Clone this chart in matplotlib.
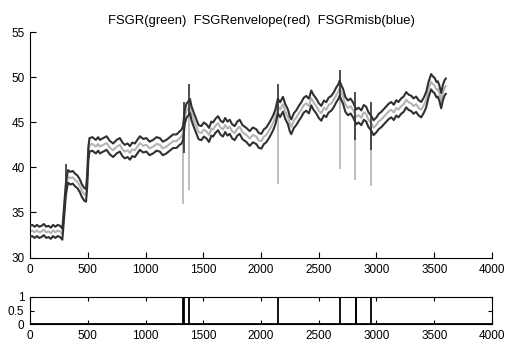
import numpy as np
import matplotlib
matplotlib.use("Agg")
import matplotlib.pyplot as plt

plt.rcParams["font.family"] = ["Liberation Sans", "DejaVu Sans"]

GRAY = "#b4b4b4"
DARK = "#303030"

# FSGR centre line
t_flat = [0, 20, 40, 60, 80, 100, 120, 140, 160, 180, 200, 220, 240, 260, 280]
m_flat = [32.9, 33.0, 32.8, 33.0, 32.8, 32.9, 33.1, 32.8, 32.9, 32.7, 33.0, 32.8, 33.0, 32.9, 32.6]
w_flat = [0.62] * 15

t_step = [295, 310, 320, 330, 350, 370, 390, 410, 430, 450, 470, 485, 495, 505, 515]
m_step = [35.0, 37.5, 38.4, 39.0, 38.8, 38.9, 38.6, 38.4, 38.0, 37.4, 37.0, 36.9, 38.5, 41.5, 42.5]
w_step = [0.62, 0.65, 0.68, 0.7, 0.7, 0.7, 0.7, 0.7, 0.7, 0.7, 0.7, 0.7, 0.7, 0.72, 0.75]

t_plat = [540, 570, 590, 605, 635, 663, 690, 720, 750, 778, 800, 821, 845, 865, 885,
          908, 930, 951, 980, 1008, 1035, 1066, 1095, 1124, 1150, 1181, 1210, 1239, 1268, 1300]
m_plat = [42.6, 42.3, 42.6, 42.3, 42.5, 42.7, 42.2, 41.9, 42.3, 42.5, 42.0, 41.75, 41.9, 41.6, 42.0,
          41.9, 42.3, 42.7, 42.4, 42.5, 42.1, 42.3, 42.6, 42.5, 42.1, 42.3, 42.6, 42.9, 42.9, 43.3]
w_plat = [0.75] * 30

t_mid = [1311, 1325, 1340, 1355, 1369, 1385, 1398, 1420, 1441, 1460, 1484, 1505, 1527, 1550, 1570,
         1585, 1605, 1628, 1650, 1671, 1690, 1710, 1729, 1750, 1772, 1795, 1815, 1840, 1873]
m_mid = [43.4, 43.8, 45.6, 46.3, 46.5, 46.8, 46.0, 45.2, 44.5, 43.9, 43.8, 44.2, 44.0, 43.6, 44.3,
         44.2, 44.6, 44.9, 44.4, 44.2, 44.7, 44.3, 44.5, 44.0, 43.8, 44.3, 44.5, 43.9, 43.6]
w_mid = [0.78] * 29

t_late = [1902, 1930, 1960, 1980, 2003, 2025, 2046, 2075, 2104, 2125, 2146, 2165, 2190, 2210, 2233,
          2250, 2262, 2285, 2305, 2328, 2349, 2370, 2392, 2415, 2435, 2455, 2479, 2500, 2522, 2545,
          2565, 2585, 2608, 2630, 2652, 2670, 2681, 2695, 2710, 2730, 2753, 2775, 2796, 2810, 2825,
          2845, 2868, 2890, 2911, 2930, 2954, 2975, 2998]
m_late = [43.2, 43.6, 43.4, 43.0, 42.9, 43.4, 43.6, 44.2, 44.9, 45.6, 46.8, 46.4, 47.0, 46.2, 45.6,
          44.8, 44.5, 45.2, 45.5, 46.0, 46.4, 46.9, 47.1, 46.8, 47.7, 47.2, 46.8, 46.3, 46.0, 46.6,
          46.4, 46.9, 47.1, 47.5, 48.05, 48.4, 48.8, 48.3, 47.9, 47.0, 46.6, 46.8, 46.4, 46.0, 45.6,
          45.8, 45.5, 46.1, 45.9, 45.3, 44.9, 44.4, 44.7]
w_late = [0.82] * 53

t_end = [3020, 3041, 3062, 3084, 3105, 3127, 3150, 3171, 3190, 3214, 3235, 3257, 3280, 3300, 3320,
         3343, 3365, 3387, 3410, 3430, 3450, 3473, 3490, 3502, 3520, 3531, 3545, 3560, 3575, 3589, 3600]
m_end = [45.1, 45.3, 45.6, 45.9, 46.2, 46.4, 46.1, 46.6, 46.4, 46.8, 47.0, 47.5, 47.2, 47.1, 46.8,
         47.0, 46.6, 46.4, 46.9, 47.5, 48.6, 49.5, 49.2, 49.1, 48.6, 48.7, 48.2, 47.4, 48.3, 48.8, 49.0]
w_end = [0.85] * 31

# spikes at the flagged samples
gray_spike_t = [1328, 1374, 2147, 2686, 2818, 2954]
gray_spike_top = [43.6, 46.6, 46.8, 48.7, 45.7, 44.9]
gray_spike_low = [35.9, 37.5, 38.2, 39.8, 38.6, 37.9]

dark_spike_t = [309, 1335, 1380, 2147, 2686, 2818, 2954]
dark_spike_low = [37.3, 41.6, 45.8, 46.0, 47.9, 43.0, 41.9]
dark_spike_high = [40.4, 47.2, 49.2, 49.3, 50.8, 48.4, 47.2]

# flag signal in the lower panel
flag_t = [1325, 1335, 1377, 2147, 2686, 2820, 2826, 2954]

t = np.array(t_flat + t_step + t_plat + t_mid + t_late + t_end)
mid = np.array(m_flat + m_step + m_plat + m_mid + m_late + m_end)
half = np.array(w_flat + w_step + w_plat + w_mid + w_late + w_end)

fig = plt.figure(figsize=(5.07, 3.49), dpi=100)
ax = fig.add_axes([0.0592, 0.262, 0.9112, 0.646])
ax2 = fig.add_axes([0.0592, 0.0716, 0.9112, 0.0774])

ax.plot(t, mid, color=GRAY, lw=1.5, zorder=2)
ax.vlines(gray_spike_t, gray_spike_low, gray_spike_top, color=GRAY, lw=1.2, zorder=2)
ax.plot(t, mid + half, color=DARK, lw=1.5, zorder=3)
ax.plot(t, mid - half, color=DARK, lw=1.5, zorder=3)
ax.vlines(dark_spike_t, dark_spike_low, dark_spike_high, color=DARK, lw=1.2, zorder=3)

ax.set_xlim(0, 4000)
ax.set_ylim(30, 55)
ax.set_xticks(np.arange(0, 4001, 500))
ax.set_yticks(np.arange(30, 56, 5))
ax.spines["top"].set_visible(False)
ax.spines["right"].set_visible(False)
ax.tick_params(direction="in", length=4, labelsize=8.5, colors="black")
ax.tick_params(axis="x", pad=4.5)
ax.tick_params(axis="y", pad=4)
ax.set_title("FSGR(green)  FSGRenvelope(red)  FSGRmisb(blue)", fontsize=9.4, pad=6)

ax2.vlines(flag_t, 0, 1, color="black", lw=1.3)
ax2.plot([0, 4000], [0, 0], color="black", lw=2)
ax2.set_xlim(0, 4000)
ax2.set_ylim(0, 1)
ax2.set_xticks(np.arange(0, 4001, 500))
ax2.set_yticks([0, 0.5, 1])
ax2.set_yticklabels(["0", "0.5", "1"])
ax2.tick_params(direction="in", length=3, labelsize=8.5, top=True, right=True)
ax2.tick_params(axis="x", pad=4.5)
ax2.tick_params(axis="y", pad=4)

fig.savefig("out.png", dpi=100)
